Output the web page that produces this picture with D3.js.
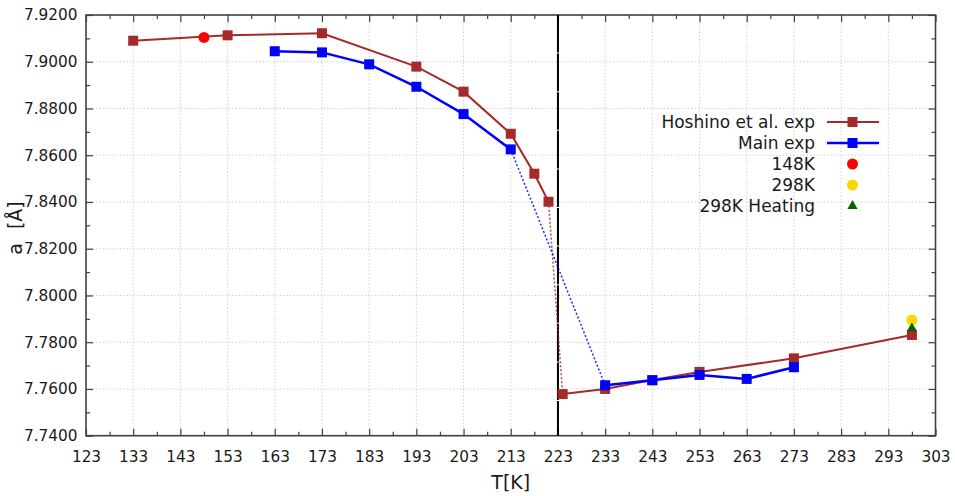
<!DOCTYPE html>
<html>
<head>
<meta charset="utf-8">
<script src="https://cdn.jsdelivr.net/npm/d3@7"></script>
<style>
  html, body { margin: 0; padding: 0; background: #fff; }
  svg { display: block; font-family: "DejaVu Sans", Verdana, sans-serif; }
</style>
</head>
<body>
<svg id="chart" width="955" height="496"></svg>
<script>
// Lattice parameter a versus temperature
const hoshinoT = [133, 153, 173, 193, 203, 213, 218, 221, 224, 233, 243, 253, 273, 298];
const hoshinoA = [7.9090, 7.9113, 7.9122, 7.8979, 7.8872, 7.8692, 7.8521, 7.8401, 7.7578, 7.7600, 7.7638, 7.7673, 7.7731, 7.7831];
// index where the transition gap (dotted segment) starts
const hoshinoGap = 7;

const mainT = [163, 173, 183, 193, 203, 213, 233, 243, 253, 263, 273];
const mainA = [7.9045, 7.9040, 7.8989, 7.8893, 7.8776, 7.8625, 7.7616, 7.7637, 7.7660, 7.7643, 7.7693];
const mainGap = 5;

const pt148T = [148];
const pt148A = [7.9104];
const pt298T = [298];
const pt298A = [7.7895];
const pt298hT = [298];
const pt298hA = [7.7859];

const transitionT = 223;

const xTicks = d3.range(123, 304, 10);
const yTicks = d3.range(0, 10).map(i => +(7.74 + i * 0.02).toFixed(2));
const xMinor = d3.range(128, 303, 10);
const yMinor = d3.range(0, 9).map(i => +(7.75 + i * 0.02).toFixed(2));

const legendLabels = ["Hoshino et al. exp", "Main exp", "148K", "298K", "298K Heating"];

const colors = {
  hoshino: "#a52a2a",
  main: "#0000ff",
  p148: "#ff0000",
  p298: "#ffd700",
  p298h: "#006400"
};

const svg = d3.select("#chart");
const L = 86, R = 935.5, T = 15, B = 435.7;

const x = d3.scaleLinear().domain([123, 303]).range([L, R]);
const y = d3.scaleLinear().domain([7.74, 7.92]).range([B, T]);

// grid
const grid = svg.append("g").attr("stroke", "#c8c8c8").attr("stroke-width", 1)
  .attr("stroke-dasharray", "1.2,2.2");
grid.selectAll("line.gx").data(xTicks.slice(1, -1)).join("line")
  .attr("x1", d => x(d)).attr("x2", d => x(d)).attr("y1", T).attr("y2", B);
grid.selectAll("line.gy").data(yTicks.slice(1, -1)).join("line")
  .attr("y1", d => y(d)).attr("y2", d => y(d)).attr("x1", L).attr("x2", R);

// axes (ticks inward)
const fmtY = d3.format(".4f");
const axisColor = "#404040";

const axBottom = svg.append("g").attr("transform", `translate(0,${B})`)
  .call(d3.axisBottom(x).tickValues(xTicks).tickSize(-7).tickPadding(15).tickFormat(d3.format("d")));
const axBottomMinor = svg.append("g").attr("transform", `translate(0,${B})`)
  .call(d3.axisBottom(x).tickValues(xMinor).tickSize(-4).tickFormat(""));
const axTop = svg.append("g").attr("transform", `translate(0,${T})`)
  .call(d3.axisTop(x).tickValues(xTicks).tickSize(-7).tickFormat(""));
const axTopMinor = svg.append("g").attr("transform", `translate(0,${T})`)
  .call(d3.axisTop(x).tickValues(xMinor).tickSize(-4).tickFormat(""));
const axLeft = svg.append("g").attr("transform", `translate(${L},0)`)
  .call(d3.axisLeft(y).tickValues(yTicks).tickSize(-7).tickPadding(8.5).tickFormat(fmtY));
const axLeftMinor = svg.append("g").attr("transform", `translate(${L},0)`)
  .call(d3.axisLeft(y).tickValues(yMinor).tickSize(-4).tickFormat(""));
const axRight = svg.append("g").attr("transform", `translate(${R},0)`)
  .call(d3.axisRight(y).tickValues(yTicks).tickSize(-7).tickFormat(""));
const axRightMinor = svg.append("g").attr("transform", `translate(${R},0)`)
  .call(d3.axisRight(y).tickValues(yMinor).tickSize(-4).tickFormat(""));

[axBottom, axBottomMinor, axTop, axTopMinor, axLeft, axLeftMinor, axRight, axRightMinor].forEach(g => {
  g.select(".domain").remove();
  g.selectAll(".tick line").attr("stroke", axisColor).attr("stroke-width", 1.2);
  g.selectAll(".tick text").attr("fill", "#1a1a1a").attr("font-size", 15.3)
    .attr("font-family", "DejaVu Sans, Verdana, sans-serif");
});

// frame
svg.append("rect").attr("x", L).attr("y", T).attr("width", R - L).attr("height", B - T)
  .attr("fill", "none").attr("stroke", axisColor).attr("stroke-width", 1.6);

// transition marker
svg.append("line")
  .attr("x1", x(transitionT)).attr("x2", x(transitionT))
  .attr("y1", T).attr("y2", B)
  .attr("stroke", "#000").attr("stroke-width", 2)
  .attr("stroke-dasharray", "37.6,1");

// series helper
const line = d3.line().x(d => x(d[0])).y(d => y(d[1]));

function drawSeries(ts, as, gap, color, width) {
  const pts = ts.map((t, i) => [t, as[i]]);
  const g = svg.append("g");
  g.append("path").attr("d", line(pts.slice(0, gap + 1)))
    .attr("fill", "none").attr("stroke", color).attr("stroke-width", width);
  g.append("path").attr("d", line(pts.slice(gap, gap + 2)))
    .attr("fill", "none").attr("stroke", color).attr("stroke-width", 1.5)
    .attr("stroke-dasharray", "2,2").attr("opacity", 0.85);
  g.append("path").attr("d", line(pts.slice(gap + 1)))
    .attr("fill", "none").attr("stroke", color).attr("stroke-width", width);
  g.selectAll("rect").data(pts).join("rect")
    .attr("x", d => x(d[0]) - 5).attr("y", d => y(d[1]) - 5)
    .attr("width", 10).attr("height", 10).attr("fill", color);
}

drawSeries(hoshinoT, hoshinoA, hoshinoGap, colors.hoshino, 2);
drawSeries(mainT, mainA, mainGap, colors.main, 2.5);

// single measurements
svg.selectAll("circle.p148").data(pt148T.map((t, i) => [t, pt148A[i]])).join("circle")
  .attr("cx", d => x(d[0])).attr("cy", d => y(d[1])).attr("r", 5.5).attr("fill", colors.p148);
svg.selectAll("circle.p298").data(pt298T.map((t, i) => [t, pt298A[i]])).join("circle")
  .attr("cx", d => x(d[0])).attr("cy", d => y(d[1])).attr("r", 5.5).attr("fill", colors.p298);
const tri = d3.symbol().type(d3.symbolTriangle).size(45);
svg.selectAll("path.p298h").data(pt298hT.map((t, i) => [t, pt298hA[i]])).join("path")
  .attr("d", tri).attr("transform", d => `translate(${x(d[0])},${y(d[1])})`)
  .attr("fill", colors.p298h);

// axis titles
svg.append("text").attr("x", (L + R) / 2).attr("y", 489)
  .attr("text-anchor", "middle").attr("font-size", 19).attr("fill", "#1a1a1a").text("T[K]");
const yt = svg.append("text").attr("transform", "translate(22,228) rotate(-90)")
  .attr("text-anchor", "middle").attr("font-size", 19).attr("fill", "#1a1a1a");
yt.append("tspan").text("a");
yt.append("tspan").attr("dx", 14).text("[Å]");

// legend
const lg = svg.append("g");
const rowY = i => 122 + i * 21;
legendLabels.forEach((lab, i) => {
  lg.append("text").attr("x", 815).attr("y", rowY(i)).attr("dy", "0.36em")
    .attr("text-anchor", "end").attr("font-size", 17).attr("fill", "#1a1a1a").text(lab);
});
[[colors.hoshino, 2], [colors.main, 2.5]].forEach(([c, w], i) => {
  lg.append("line").attr("x1", 827).attr("x2", 879).attr("y1", rowY(i)).attr("y2", rowY(i))
    .attr("stroke", c).attr("stroke-width", w);
  lg.append("rect").attr("x", 852.5 - 5).attr("y", rowY(i) - 5).attr("width", 10).attr("height", 10)
    .attr("fill", c);
});
lg.append("circle").attr("cx", 852.5).attr("cy", rowY(2)).attr("r", 5.5).attr("fill", colors.p148);
lg.append("circle").attr("cx", 852.5).attr("cy", rowY(3)).attr("r", 5.5).attr("fill", colors.p298);
lg.append("path").attr("d", tri).attr("transform", `translate(852.5,${rowY(4)})`).attr("fill", colors.p298h);
</script>
</body>
</html>
